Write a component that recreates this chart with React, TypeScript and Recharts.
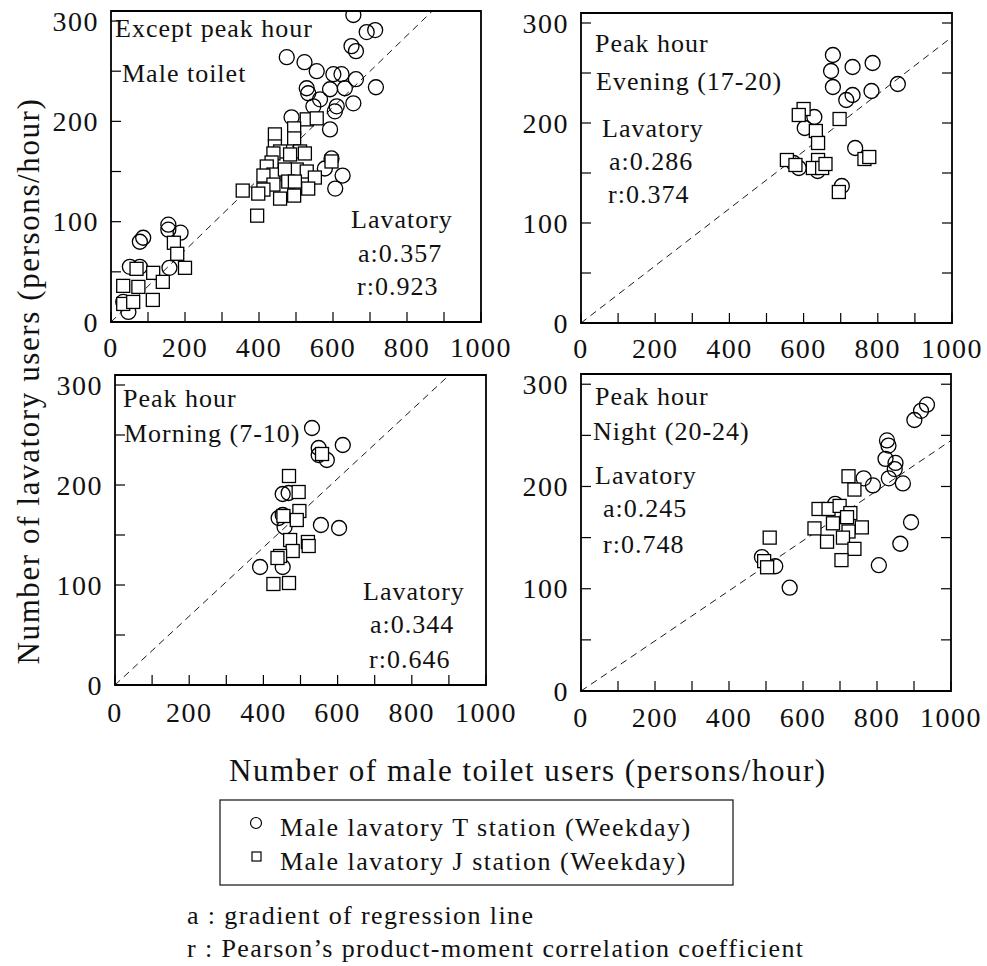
import React from "react";
import { ScatterChart, Scatter, XAxis, YAxis, ReferenceLine, ReferenceArea } from "recharts";

const FONT = '"Liberation Serif", "Times New Roman", serif';

const xTicks = [0, 100, 200, 300, 400, 500, 600, 700, 800, 900, 1000];
const yTicks = [0, 50, 100, 150, 200, 250, 300];

// [male toilet users, lavatory users]
const exceptPeakT: [number, number][] = [
  [655, 306], [691, 289], [714, 291], [650, 275], [662, 270], [475, 264], [523, 259],
  [556, 250], [601, 247], [623, 247], [662, 242], [716, 234], [529, 233], [533, 228],
  [592, 232], [632, 233], [565, 222], [547, 215], [610, 215], [605, 210], [655, 218],
  [488, 204], [592, 192], [596, 163], [578, 153], [626, 146], [606, 133], [155, 97],
  [155, 92], [188, 89], [87, 84], [78, 80], [51, 55], [78, 55], [158, 54], [33, 20], [47, 10],
];
const exceptPeakJ: [number, number][] = [
  [529, 202], [556, 203], [495, 193], [495, 183], [443, 187], [511, 170], [524, 168],
  [443, 175], [457, 170], [439, 168], [484, 167], [434, 159], [421, 155], [502, 152],
  [529, 150], [596, 160], [439, 147], [412, 146], [470, 152], [551, 144], [479, 140],
  [497, 140], [439, 137], [533, 133], [412, 132], [398, 128], [356, 131], [457, 123],
  [495, 126], [395, 106], [170, 79], [179, 68], [200, 54], [69, 53], [114, 49], [140, 40],
  [33, 36], [74, 35], [113, 22], [33, 18], [60, 20],
];
const eveningT: [number, number][] = [
  [679, 268], [674, 252], [732, 256], [786, 260], [679, 236], [715, 223], [732, 228],
  [783, 232], [854, 239], [629, 206], [603, 195], [739, 175], [587, 155], [573, 160],
  [638, 152], [703, 137],
];
const eveningJ: [number, number][] = [
  [600, 214], [587, 208], [697, 204], [633, 192], [639, 180], [555, 163], [578, 158],
  [639, 163], [625, 155], [650, 155], [659, 159], [764, 164], [777, 166], [695, 131],
];
const morningT: [number, number][] = [
  [531, 257], [614, 240], [549, 237], [549, 230], [571, 225], [452, 191], [468, 192],
  [452, 170], [441, 167], [457, 158], [555, 160], [604, 157], [391, 118], [452, 118],
];
const morningJ: [number, number][] = [
  [558, 231], [469, 209], [495, 193], [497, 174], [454, 169], [490, 165], [472, 145],
  [520, 143], [522, 139], [479, 134], [445, 129], [438, 127], [427, 101], [469, 102],
];
const nightT: [number, number][] = [
  [935, 280], [919, 274], [901, 265], [827, 245], [831, 240], [823, 227], [850, 223],
  [848, 217], [832, 208], [870, 203], [764, 208], [789, 201], [892, 165], [863, 144],
  [805, 123], [687, 183], [489, 131], [525, 122], [564, 101],
];
const nightJ: [number, number][] = [
  [723, 210], [739, 197], [642, 178], [669, 178], [699, 181], [728, 174], [719, 170],
  [681, 164], [631, 159], [759, 160], [723, 156], [708, 150], [665, 146], [739, 139],
  [704, 128], [510, 150], [495, 127], [503, 121],
];

const slopes = [0.357, 0.286, 0.344, 0.245];

const YW = 80;
const XH = 50;
const PAD = 8;
const RIGHT = 45;

const toPoints = (arr: [number, number][]) => arr.map(([x, y]) => ({ x, y }));

const circleShape = (p: any) => (
  <circle cx={p.cx} cy={p.cy} r={7.5} fill="none" stroke="#000" strokeWidth={1.3} />
);
const squareShape = (p: any) => (
  <rect x={p.cx - 6.5} y={p.cy - 6.5} width={13} height={13} fill="#fff" stroke="#000" strokeWidth={1.3} />
);

interface PanelProps {
  left: number;
  top: number;
  w: number;
  h: number;
  t: [number, number][];
  j: [number, number][];
  slope: number;
  mirror?: boolean;
  labelOffset: number;
}

const Panel: React.FC<PanelProps> = ({ left, top, w, h, t, j, slope, mirror, labelOffset }) => {
  const bottom = PAD + h;
  const right = YW + w;
  const xEnd = Math.min(1000, 310 / slope);

  const yTick = (props: any) => {
    const { y, payload } = props;
    const v = payload.value;
    return (
      <g>
        <line x1={YW} x2={YW + 10} y1={y} y2={y} stroke="#000" strokeWidth={1.2} />
        {mirror && <line x1={right - 10} x2={right} y1={y} y2={y} stroke="#000" strokeWidth={1.2} />}
        {v % 100 === 0 && (
          <text x={YW - 12} y={y} textAnchor="end" dominantBaseline="central" fontFamily={FONT}
            fontSize={28} letterSpacing={1.5} fill="#111">
            {v}
          </text>
        )}
      </g>
    );
  };

  const xTick = (props: any) => {
    const { x, payload } = props;
    const v = payload.value;
    return (
      <g>
        <line x1={x} x2={x} y1={bottom} y2={bottom - 10} stroke="#000" strokeWidth={1.2} />
        {v % 200 === 0 && (
          <text x={x} y={bottom + labelOffset} textAnchor="middle" fontFamily={FONT}
            fontSize={28} letterSpacing={1.5} fill="#111">
            {v}
          </text>
        )}
      </g>
    );
  };

  return (
    <div style={{ position: "absolute", left: left - YW, top: top - PAD }}>
      <ScatterChart width={YW + w + RIGHT} height={PAD + h + XH}
        margin={{ top: PAD, right: RIGHT, bottom: 0, left: 0 }}>
        <XAxis type="number" dataKey="x" domain={[0, 1000]} ticks={xTicks} interval={0}
          tick={xTick} tickLine={false} axisLine={false} height={XH} allowDataOverflow />
        <YAxis type="number" dataKey="y" domain={[0, 310]} ticks={yTicks} interval={0}
          tick={yTick} tickLine={false} axisLine={false} width={YW} allowDataOverflow />
        <ReferenceArea x1={0} x2={1000} y1={0} y2={310} fill="none" stroke="#000" strokeWidth={1.8} />
        <ReferenceLine segment={[{ x: 0, y: 0 }, { x: xEnd, y: slope * xEnd }]}
          stroke="#000" strokeWidth={0.9} strokeDasharray="7 5" />
        <Scatter data={toPoints(t)} shape={circleShape} isAnimationActive={false} />
        <Scatter data={toPoints(j)} shape={squareShape} isAnimationActive={false} />
      </ScatterChart>
    </div>
  );
};

const txt = { fontFamily: FONT, fill: "#111" } as const;

export default function App() {
  return (
    <div style={{ position: "absolute", left: 0, top: 0, width: 987, height: 966, background: "#fff" }}>
      <Panel left={111} top={11} w={370} h={311} t={exceptPeakT} j={exceptPeakJ} slope={slopes[0]} labelOffset={35} />
      <Panel left={581} top={13} w={371} h={310} t={eveningT} j={eveningJ} slope={slopes[1]} mirror labelOffset={35} />
      <Panel left={115} top={375} w={371} h={310} t={morningT} j={morningJ} slope={slopes[2]} labelOffset={37} />
      <Panel left={581} top={374} w={370} h={317} t={nightT} j={nightJ} slope={slopes[3]} mirror labelOffset={36} />

      <svg width={987} height={966} style={{ position: "absolute", left: 0, top: 0, pointerEvents: "none" }}>
        <g {...txt} fontSize={26} letterSpacing={1}>
          <text x={115} y={37}>Except peak hour</text>
          <text x={122} y={82}>Male toilet</text>
          <text x={351} y={228}>Lavatory</text>
          <text x={358} y={262}>a:0.357</text>
          <text x={357} y={295}>r:0.923</text>

          <text x={595} y={52}>Peak hour</text>
          <text x={596} y={90}>Evening (17-20)</text>
          <text x={602} y={137}>Lavatory</text>
          <text x={609} y={170}>a:0.286</text>
          <text x={608} y={203}>r:0.374</text>

          <text x={123} y={407}>Peak hour</text>
          <text x={124} y={442}>Morning (7-10)</text>
          <text x={363} y={600}>Lavatory</text>
          <text x={370} y={633}>a:0.344</text>
          <text x={369} y={668}>r:0.646</text>

          <text x={595} y={405}>Peak hour</text>
          <text x={593} y={440}>Night (20-24)</text>
          <text x={595} y={484}>Lavatory</text>
          <text x={603} y={517}>a:0.245</text>
          <text x={603} y={553}>r:0.748</text>
        </g>

        <text {...txt} fontSize={31} letterSpacing={1.6} textAnchor="middle"
          transform="rotate(-90)" x={-381} y={39}>
          Number of lavatory users (persons/hour)
        </text>
        <text {...txt} fontSize={31} letterSpacing={1.5} x={229} y={781}>
          Number of male toilet users (persons/hour)
        </text>

        <rect x={220} y={800} width={513} height={85} fill="#fff" stroke="#222" strokeWidth={1.3} />
        <circle cx={256} cy={823} r={5.5} fill="none" stroke="#000" strokeWidth={1.2} />
        <rect x={252} y={852} width={9} height={9} fill="#fff" stroke="#000" strokeWidth={1.2} />
        <text {...txt} fontSize={26} letterSpacing={1.5} x={280} y={836}>
          Male lavatory T station (Weekday)
        </text>
        <text {...txt} fontSize={26} letterSpacing={1.5} x={280} y={870}>
          Male lavatory J station (Weekday)
        </text>

        <text {...txt} fontSize={26} letterSpacing={1.4} x={187} y={924}>
          a : gradient of regression line
        </text>
        <text {...txt} fontSize={26} letterSpacing={1.4} x={187} y={957}>
          r : Pearson’s product-moment correlation coefficient
        </text>
      </svg>
    </div>
  );
}
